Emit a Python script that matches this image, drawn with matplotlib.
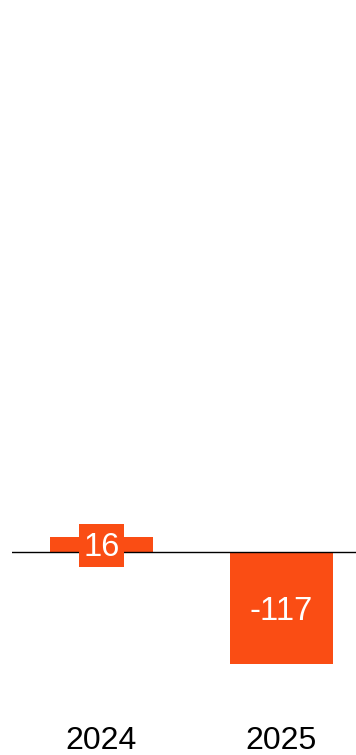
import matplotlib
matplotlib.use("Agg")
import matplotlib.pyplot as plt
from matplotlib.path import Path

plt.rcParams['font.family'] = ['Liberation Sans', 'DejaVu Sans']

years = ["2024", "2025"]
values = [16, -117]

BAR_COLOR = "#FA4D14"

W, H, DPI = 356, 755, 100
fig = plt.figure(figsize=(W / DPI, H / DPI), dpi=DPI)

# axes placed in pixel terms: left 12px, bottom edge 700px from top, top 10px from top
left_px, right_px, top_px, bottom_px = 12, 356, 10, 700
ax = fig.add_axes([left_px / W, (H - bottom_px) / H,
                   (right_px - left_px) / W, (bottom_px - top_px) / H])


def label_box(x0, y0, width, height, mutation_size):
    """Square box with a little extra room above the digits."""
    padx = 0.12 * mutation_size
    pad_top = 0.27 * mutation_size
    pad_bot = 0.12 * mutation_size
    l, r = x0 - padx, x0 + width + padx
    b, t = y0 - pad_bot, y0 + height + pad_top
    return Path([(l, b), (r, b), (r, t), (l, t), (l, b)],
                [Path.MOVETO, Path.LINETO, Path.LINETO, Path.LINETO,
                 Path.CLOSEPOLY])


x = list(range(len(years)))
ax.bar(x, values, width=0.572, color=BAR_COLOR, zorder=2)
ax.axhline(0, color="black", linewidth=1.0, zorder=3)

for xi, v in zip(x, values):
    ax.text(xi, v / 2, f"{v}", ha="center", va="center_baseline", color="white",
            fontsize=23.5, zorder=4,
            bbox=dict(boxstyle=label_box, facecolor=BAR_COLOR,
                      edgecolor="none"))

ax.set_xlim(-0.497, 1.414)
ax.set_ylim(-154.6, 566.2)
ax.set_xticks(x)
ax.set_xticklabels(years, fontsize=23)
ax.tick_params(axis="x", length=0, pad=19)
ax.set_yticks([])
for s in ax.spines.values():
    s.set_visible(False)

fig.savefig("out.png", dpi=DPI)
